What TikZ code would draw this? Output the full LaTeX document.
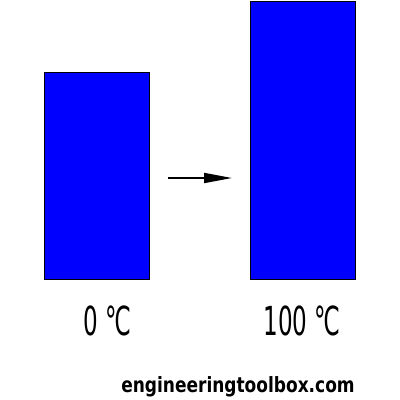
\documentclass[tikz,border=0pt]{standalone}
\usepackage{fontspec}
\setmainfont{DejaVu Sans Condensed}
\newfontfamily\labelfont{DejaVu Sans Condensed}
\newfontfamily\sitefont{DejaVu Sans Condensed}[BoldFont={DejaVu Sans Condensed Bold}]
\usetikzlibrary{arrows.meta}

\begin{document}
\begin{tikzpicture}[x=1pt, y=-1pt, >={Triangle[length=28pt, width=10pt]}]

% Frame
\useasboundingbox (0,0) rectangle (400,400);

% Styles
\tikzset{
  bar/.style={draw=black, line width=0.8pt, fill=blue, inner sep=0pt, anchor=south west},
  templabel/.style={font=\labelfont\fontsize{40}{44}\selectfont, xscale=0.64, anchor=base},
}

% Parameters
\def\barw{105}

% Bars at 0 and 100 degrees
\node[bar, minimum width=\barw pt, minimum height=207pt] (cold) at (44,280) {};
\node[bar, minimum width=\barw pt, minimum height=278pt] (hot) at (250,280) {};

% Arrow between the bars
\coordinate (arrstart) at (168,178);
\coordinate (arrend) at (232,178);
\draw[->, line width=1.8pt] (arrstart) -- (arrend);

% Temperatures
\node[templabel] (coldlabel) at (107,335) {0 ℃};
\node[templabel] (hotlabel) at (302,335) {100 ℃};

% Site name
\node[font=\sitefont\bfseries\fontsize{21}{24}\selectfont, xscale=0.9, anchor=base] (site) at (238,392) {engineeringtoolbox.com};

\end{tikzpicture}
\end{document}
